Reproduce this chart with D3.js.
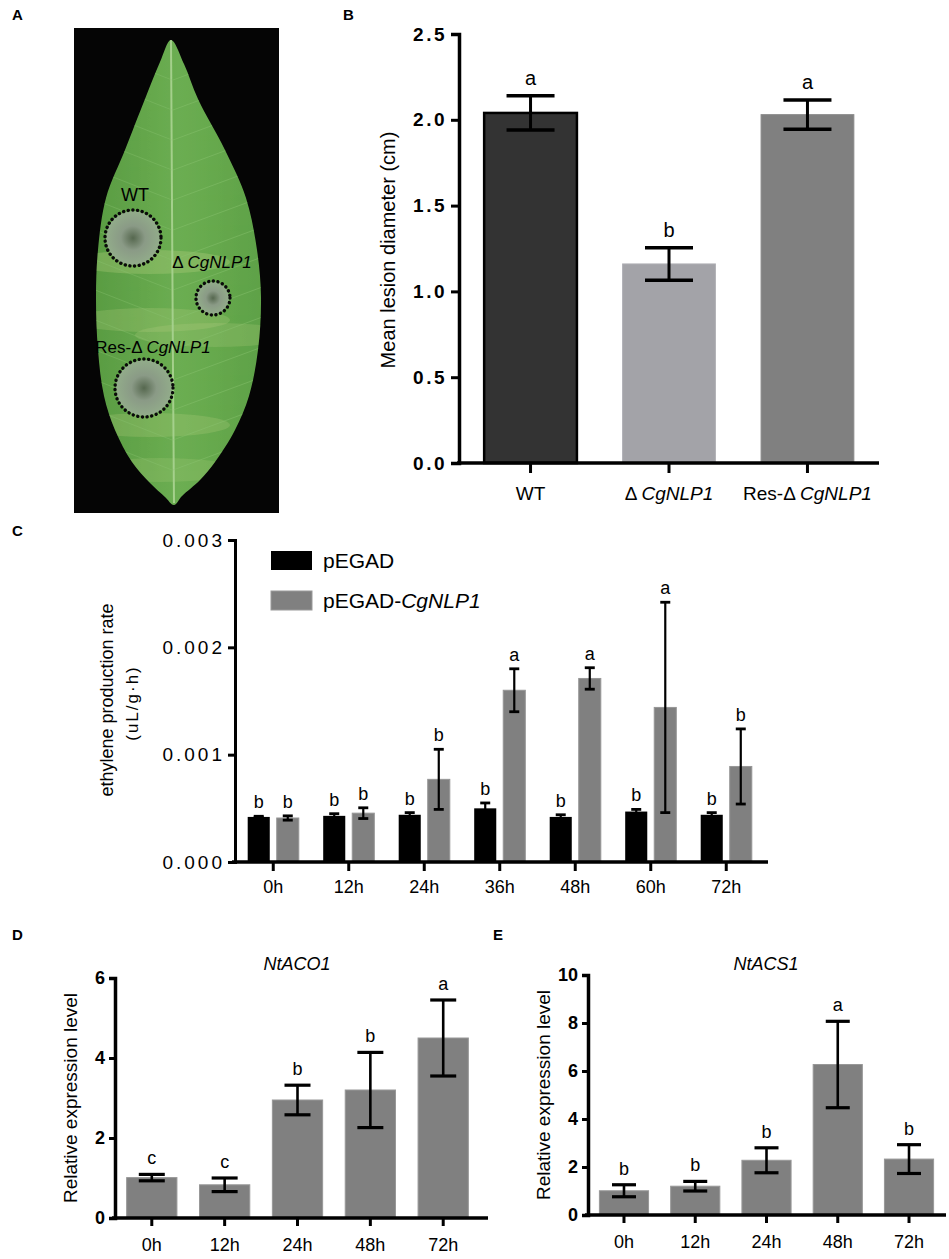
<!DOCTYPE html>
<html lang="en">
<head>
    <meta charset="UTF-8">
    <title>CgNLP1 lesion and ethylene figure</title>
    <script src="https://d3js.org/d3.v7.min.js"></script>
    <style>
        body {
            margin: 0;
            background: #ffffff;
            font-family: 'Liberation Sans', Arial, sans-serif;
        }
        svg { display: block; }
        .axis path, .axis line { stroke: #000; }
        .panel-letter { font-weight: bold; font-size: 15px; }
        .narrow { font-family: 'Liberation Sans Narrow', 'Liberation Sans', Arial, sans-serif; }
    </style>
</head>
<body>
<div id="fig"></div>
<script>
    // ---- data ----
    const lesionGroups = ["WT", "ΔCgNLP1", "Res-ΔCgNLP1"];
    const lesionMean = [2.04, 1.16, 2.03];
    const lesionErr = [0.10, 0.095, 0.085];
    const lesionLetters = ["a", "b", "a"];
    const lesionColors = ["#333333", "#a3a3a8", "#808080"];
    const lesionTicks = [0, 0.5, 1.0, 1.5, 2.0, 2.5];

    const ethTimes = ["0h", "12h", "24h", "36h", "48h", "60h", "72h"];
    const pegadMean = [0.00042, 0.00043, 0.00044, 0.00050, 0.00042, 0.00047, 0.00044];
    const pegadErr = [0.000006, 0.00002, 0.00002, 0.00005, 0.00002, 0.00002, 0.00002];
    const pegadLetters = ["b", "b", "b", "b", "b", "b", "b"];
    const nlpMean = [0.00041, 0.000455, 0.00077, 0.0016, 0.00171, 0.00144, 0.00089];
    const nlpErr = [0.00002, 0.00005, 0.00028, 0.0002, 0.0001, 0.00098, 0.00035];
    const nlpLetters = ["b", "b", "b", "a", "a", "a", "b"];
    const ethTicks = [0, 0.001, 0.002, 0.003];

    const qTimes = ["0h", "12h", "24h", "48h", "72h"];
    const aco1Mean = [1.01, 0.83, 2.95, 3.2, 4.5];
    const aco1Err = [0.08, 0.17, 0.37, 0.94, 0.95];
    const aco1Letters = ["c", "c", "b", "b", "a"];
    const aco1Ticks = [0, 2, 4, 6];
    const acs1Mean = [1.01, 1.2, 2.28, 6.27, 2.33];
    const acs1Err = [0.25, 0.2, 0.52, 1.8, 0.6];
    const acs1Letters = ["b", "b", "b", "a", "b"];
    const acs1Ticks = [0, 2, 4, 6, 8, 10];

    const W = 949, H = 1259;
    const svg = d3.select("#fig").append("svg")
        .attr("width", W).attr("height", H)
        .attr("viewBox", `0 0 ${W} ${H}`);

    svg.append("rect").attr("width", W).attr("height", H).attr("fill", "#fff");

    // panel letters
    [["A", 12, 20], ["B", 343, 20], ["C", 12, 536], ["D", 12, 940], ["E", 493, 940]].forEach(p => {
        svg.append("text").attr("class", "panel-letter")
            .attr("x", p[1]).attr("y", p[2]).text(p[0]);
    });

    // helper: label with italic gene name
    function geneLabel(sel, prefix, gene, suffix) {
        if (prefix) sel.append("tspan").text(prefix);
        sel.append("tspan").attr("font-style", "italic").text(gene);
        if (suffix) sel.append("tspan").text(suffix);
        return sel;
    }

    // ================= Panel A : leaf photo (drawn) =================
    const gA = svg.append("g");
    gA.append("rect").attr("x", 74).attr("y", 28).attr("width", 205).attr("height", 485).attr("fill", "#050505");

    const defs = svg.append("defs");
    const leafGrad = defs.append("linearGradient").attr("id", "leafGrad")
        .attr("x1", 0).attr("x2", 1).attr("y1", 0).attr("y2", 0);
    leafGrad.append("stop").attr("offset", "0%").attr("stop-color", "#5a9c43");
    leafGrad.append("stop").attr("offset", "50%").attr("stop-color", "#6cae52");
    leafGrad.append("stop").attr("offset", "100%").attr("stop-color", "#5fa248");

    const lesGrad = defs.append("radialGradient").attr("id", "lesGrad");
    lesGrad.append("stop").attr("offset", "0%").attr("stop-color", "#56684f");
    lesGrad.append("stop").attr("offset", "45%").attr("stop-color", "#8a9a86");
    lesGrad.append("stop").attr("offset", "100%").attr("stop-color", "#92ac8a");

    const leafOutline = [
        [171, 40], [160, 62], [145, 99], [125, 150], [106, 198], [98, 250], [96, 297],
        [98, 350], [104, 396], [115, 430], [132, 462], [150, 483], [165, 497], [174, 505],
        [182, 496], [200, 480], [215, 462], [235, 430], [249, 396], [258, 350], [261, 297],
        [257, 250], [246, 198], [225, 150], [198, 99], [184, 64]
    ];
    const leafPath = d3.line().curve(d3.curveCatmullRomClosed.alpha(0.5))(leafOutline);
    defs.append("clipPath").attr("id", "leafClip").append("path").attr("d", leafPath);
    gA.append("path").attr("d", leafPath).attr("fill", "url(#leafGrad)");

    const leafIn = gA.append("g").attr("clip-path", "url(#leafClip)");
    // yellowish bands across the blade
    [[150, 262, 0.28], [150, 320, 0.22], [150, 425, 0.22], [215, 335, 0.2], [160, 470, 0.18]].forEach(b => {
        leafIn.append("ellipse").attr("cx", b[0]).attr("cy", b[1]).attr("rx", 80).attr("ry", 12)
            .attr("fill", "#c2d68a").attr("opacity", b[2]);
    });
    // midrib and veins
    leafIn.append("path")
        .attr("d", d3.line().curve(d3.curveBasis)([[171, 38], [172, 200], [173, 380], [174, 503]]))
        .attr("fill", "none").attr("stroke", "#a5d08c").attr("stroke-width", 2);
    d3.range(80, 480, 30).forEach(y => {
        leafIn.append("line").attr("x1", 173).attr("y1", y).attr("x2", 265).attr("y2", y - 34)
            .attr("stroke", "#8cc472").attr("stroke-width", 0.8).attr("opacity", 0.55);
        leafIn.append("line").attr("x1", 172).attr("y1", y).attr("x2", 90).attr("y2", y - 32)
            .attr("stroke", "#8cc472").attr("stroke-width", 0.8).attr("opacity", 0.45);
    });

    // lesions with dotted rings
    [[133, 238, 28], [213, 298, 17], [144, 388, 29]].forEach(c => {
        gA.append("circle").attr("cx", c[0]).attr("cy", c[1]).attr("r", c[2] - 1).attr("fill", "url(#lesGrad)");
        gA.append("circle").attr("cx", c[0]).attr("cy", c[1]).attr("r", c[2])
            .attr("fill", "none").attr("stroke", "#0a0a0a").attr("stroke-width", 3.4)
            .attr("stroke-dasharray", "0.1 4.6").attr("stroke-linecap", "round");
    });
    gA.append("text").attr("x", 135).attr("y", 201).attr("text-anchor", "middle")
        .attr("font-size", 18).attr("class", "narrow").text("WT");
    geneLabel(gA.append("text").attr("x", 212).attr("y", 268).attr("text-anchor", "middle")
        .attr("font-size", 17).attr("class", "narrow"), "Δ ", "CgNLP1");
    geneLabel(gA.append("text").attr("x", 153).attr("y", 353).attr("text-anchor", "middle")
        .attr("font-size", 17).attr("class", "narrow"), "Res-Δ ", "CgNLP1");

    // ================= Panel B : lesion diameter =================
    const bX = d3.scaleBand().domain(lesionGroups).range([462, 876]).paddingInner(0.33).paddingOuter(0.16);
    const bY = d3.scaleLinear().domain([0, 2.5]).range([463, 34]);
    const gB = svg.append("g");

    gB.selectAll("rect.bar").data(lesionGroups).join("rect")
        .attr("x", d => bX(d)).attr("width", bX.bandwidth())
        .attr("y", (d, i) => bY(lesionMean[i]))
        .attr("height", (d, i) => bY(0) - bY(lesionMean[i]))
        .attr("fill", (d, i) => lesionColors[i])
        .attr("stroke", (d, i) => i === 0 ? "#000" : d3.color(lesionColors[i]).brighter(0.2))
        .attr("stroke-width", (d, i) => i === 0 ? 2.5 : 1);

    lesionGroups.forEach((d, i) => {
        const cx = bX(d) + bX.bandwidth() / 2;
        const hi = bY(lesionMean[i] + lesionErr[i]), lo = bY(lesionMean[i] - lesionErr[i]);
        gB.append("line").attr("x1", cx).attr("x2", cx).attr("y1", hi).attr("y2", lo)
            .attr("stroke", "#000").attr("stroke-width", 3);
        [hi, lo].forEach(y => gB.append("line").attr("x1", cx - 24).attr("x2", cx + 24)
            .attr("y1", y).attr("y2", y).attr("stroke", "#000").attr("stroke-width", 3.5));
        gB.append("text").attr("x", cx).attr("y", hi - 11).attr("text-anchor", "middle")
            .attr("font-size", 20).text(lesionLetters[i]);
    });

    const bYAxis = gB.append("g").attr("class", "axis").attr("transform", "translate(459,0)")
        .call(d3.axisLeft(bY).tickValues(lesionTicks).tickFormat(d3.format(".1f")).tickSize(8).tickPadding(4));
    bYAxis.select(".domain").attr("stroke-width", 3.5);
    bYAxis.selectAll(".tick line").attr("stroke-width", 3);
    bYAxis.selectAll("text").attr("font-size", 19).attr("font-weight", "bold")
        .attr("letter-spacing", "2.5px");

    const bXAxis = gB.append("g").attr("class", "axis").attr("transform", "translate(0,463)")
        .call(d3.axisBottom(bX).tickSize(10).tickSizeOuter(0).tickFormat(""));
    bXAxis.select(".domain").attr("d", "M457,0H879").attr("stroke-width", 3.5);
    bXAxis.selectAll(".tick line").attr("stroke-width", 3);
    const bLab = [["WT", null], ["Δ ", "CgNLP1"], ["Res-Δ ", "CgNLP1"]];
    lesionGroups.forEach((d, i) => {
        const t = gB.append("text").attr("class", "narrow").attr("x", bX(d) + bX.bandwidth() / 2).attr("y", 500)
            .attr("text-anchor", "middle").attr("font-size", 19);
        if (bLab[i][1]) geneLabel(t, bLab[i][0], bLab[i][1]); else t.text(bLab[i][0]);
    });
    gB.append("text").attr("transform", "translate(395,250) rotate(-90)")
        .attr("text-anchor", "middle").attr("font-size", 20).text("Mean lesion diameter (cm)");

    // ================= Panel C : ethylene production =================
    const cX = d3.scaleBand().domain(ethTimes).range([235.5, 764]).padding(0);
    const cInner = d3.scaleBand().domain(["pegad", "nlp"]).range([0, cX.bandwidth()])
        .paddingInner(0.24).paddingOuter(0.42);
    const cY = d3.scaleLinear().domain([0, 0.003]).range([862, 540]);
    const gC = svg.append("g");

    const series = [
        { key: "pegad", mean: pegadMean, err: pegadErr, letters: pegadLetters, color: "#000000" },
        { key: "nlp", mean: nlpMean, err: nlpErr, letters: nlpLetters, color: "#808080" }
    ];
    series.forEach(s => {
        const g = gC.append("g");
        g.selectAll("rect").data(ethTimes).join("rect")
            .attr("x", d => cX(d) + cInner(s.key)).attr("width", cInner.bandwidth())
            .attr("y", (d, i) => cY(s.mean[i]))
            .attr("height", (d, i) => cY(0) - cY(s.mean[i]))
            .attr("fill", s.color)
            .attr("stroke", s.key === "nlp" ? "#969696" : "none").attr("stroke-width", 1);
        ethTimes.forEach((d, i) => {
            const cx = cX(d) + cInner(s.key) + cInner.bandwidth() / 2;
            const hi = cY(s.mean[i] + s.err[i]), lo = cY(s.mean[i] - s.err[i]);
            g.append("line").attr("x1", cx).attr("x2", cx).attr("y1", hi).attr("y2", lo)
                .attr("stroke", "#000").attr("stroke-width", 2.2);
            [hi, lo].forEach(y => g.append("line").attr("x1", cx - 5).attr("x2", cx + 5)
                .attr("y1", y).attr("y2", y).attr("stroke", "#000").attr("stroke-width", 2.8));
            g.append("text").attr("x", cx).attr("y", hi - 8).attr("text-anchor", "middle")
                .attr("font-size", 18).text(s.letters[i]);
        });
    });

    const cYAxis = gC.append("g").attr("class", "axis").attr("transform", "translate(235,0)")
        .call(d3.axisLeft(cY).tickValues(ethTicks).tickFormat(d3.format(".3f")).tickSize(7).tickPadding(3));
    cYAxis.select(".domain").attr("stroke-width", 3);
    cYAxis.selectAll(".tick line").attr("stroke-width", 3);
    cYAxis.selectAll("text").attr("font-size", 19).attr("letter-spacing", "3px");

    const cXAxis = gC.append("g").attr("class", "axis").attr("transform", "translate(0,862)")
        .call(d3.axisBottom(cX).tickSize(9).tickSizeOuter(0).tickPadding(9));
    cXAxis.select(".domain").attr("d", "M232,0H768").attr("stroke-width", 3.5);
    cXAxis.selectAll(".tick line").attr("stroke-width", 3);
    cXAxis.selectAll("text").attr("font-size", 18);

    gC.append("text").attr("transform", "translate(113,700) rotate(-90)")
        .attr("text-anchor", "middle").attr("font-size", 18).text("ethylene production rate");
    gC.append("text").attr("transform", "translate(138,703) rotate(-90)")
        .attr("text-anchor", "middle").attr("font-size", 17).attr("letter-spacing", "2px").text("(uL/g·h)");

    // legend
    const legend = gC.append("g").attr("transform", "translate(271,551)");
    series.forEach((s, i) => {
        legend.append("rect").attr("x", 0).attr("y", i * 40).attr("width", 41).attr("height", 19)
            .attr("fill", s.color).attr("stroke", i ? "#9a9a9a" : "none");
        const t = legend.append("text").attr("x", 52).attr("y", i * 40 + 17).attr("font-size", 21);
        if (i === 0) t.text("pEGAD"); else geneLabel(t, "pEGAD-", "CgNLP1");
    });

    // ================= Panels D and E : qPCR =================
    function qpcrPanel(opt) {
        const g = svg.append("g");
        const x = d3.scaleBand().domain(qTimes).range([opt.x0, opt.x1]).paddingInner(0.31).paddingOuter(0.16);
        const y = d3.scaleLinear().domain([0, opt.max]).range([opt.yBase, opt.yTop]);

        g.selectAll("rect").data(qTimes).join("rect")
            .attr("x", d => x(d)).attr("width", x.bandwidth())
            .attr("y", (d, i) => y(opt.mean[i]))
            .attr("height", (d, i) => y(0) - y(opt.mean[i]))
            .attr("fill", "#808080").attr("stroke", "#989898").attr("stroke-width", 1);

        qTimes.forEach((d, i) => {
            const cx = x(d) + x.bandwidth() / 2;
            const hi = y(opt.mean[i] + opt.err[i]), lo = y(opt.mean[i] - opt.err[i]);
            g.append("line").attr("x1", cx).attr("x2", cx).attr("y1", hi).attr("y2", lo)
                .attr("stroke", "#000").attr("stroke-width", 2.6);
            [hi, lo].forEach(yy => g.append("line").attr("x1", cx - opt.cap).attr("x2", cx + opt.cap)
                .attr("y1", yy).attr("y2", yy).attr("stroke", "#000").attr("stroke-width", 3.2));
            g.append("text").attr("x", cx).attr("y", hi - 10).attr("text-anchor", "middle")
                .attr("font-size", 18).text(opt.letters[i]);
        });

        const ya = g.append("g").attr("class", "axis").attr("transform", `translate(${opt.x0},0)`)
            .call(d3.axisLeft(y).tickValues(opt.ticks).tickFormat(d3.format("d")).tickSize(6).tickPadding(4));
        ya.select(".domain").attr("stroke-width", 3.5);
        ya.selectAll(".tick line").attr("stroke-width", 3);
        ya.selectAll("text").attr("font-size", 18).attr("font-weight", "bold");

        const xa = g.append("g").attr("class", "axis").attr("transform", `translate(0,${opt.yBase})`)
            .call(d3.axisBottom(x).tickSize(8).tickSizeOuter(0).tickPadding(12));
        xa.select(".domain").attr("d", `M${opt.x0 - 3},0H${opt.xEnd}`).attr("stroke-width", 3.5);
        xa.selectAll(".tick line").attr("stroke-width", 3);
        xa.selectAll("text").attr("font-size", 18);

        g.append("text").attr("transform", `translate(${opt.labelX},${(opt.yBase + opt.yTop) / 2}) rotate(-90)`)
            .attr("text-anchor", "middle").attr("font-size", 19).text("Relative expression level");
        g.append("text").attr("x", opt.titleX).attr("y", 970).attr("text-anchor", "middle")
            .attr("font-size", 18).attr("font-style", "italic").text(opt.title);
    }

    qpcrPanel({
        x0: 115, x1: 480, xEnd: 488, yBase: 1218, yTop: 978, max: 6, ticks: aco1Ticks,
        mean: aco1Mean, err: aco1Err, letters: aco1Letters, cap: 13,
        labelX: 77, title: "NtACO1", titleX: 297
    });
    qpcrPanel({
        x0: 588, x1: 945, xEnd: 946, yBase: 1215, yTop: 975, max: 10, ticks: acs1Ticks,
        mean: acs1Mean, err: acs1Err, letters: acs1Letters, cap: 12,
        labelX: 550, title: "NtACS1", titleX: 766
    });
</script>
</body>
</html>
